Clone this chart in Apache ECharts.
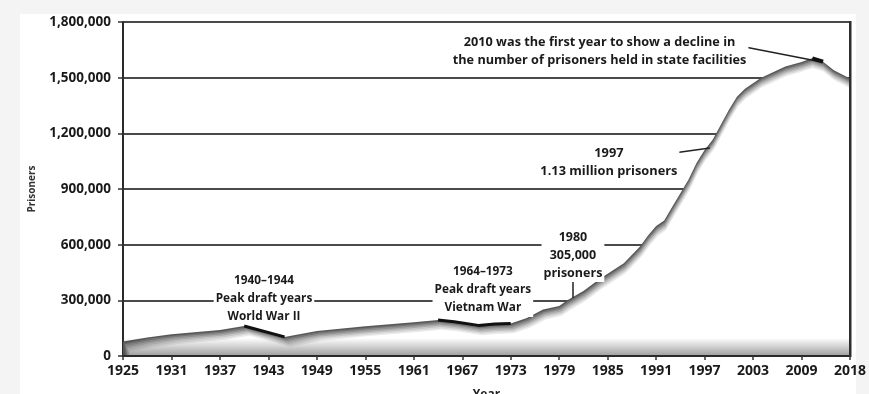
<!DOCTYPE html>
<html><head><meta charset="utf-8">
<script src="https://cdn.jsdelivr.net/npm/echarts@6/dist/echarts.min.js"></script>
<style>html,body{margin:0;padding:0;background:#f4f4f4;}#c{width:869px;height:394px;}</style>
</head><body><div id="c"></div>
<script>
// ---- data ----
const years = [1925,1928,1931,1937,1940,1945,1949,1955,1961,1964,1966,1969,1971,1973,1975,1977,1979,1980,1982,1984,1987,1989,1990,1991,1992,1993,1994,1995,1996,1997,1998,2000,2001,2002,2004,2007,2009,2010,2011,2013,2015,2018];
const prisoners = [78000,100000,117000,140000,162000,103000,135000,160000,182000,194000,185000,165000,172000,175000,205000,250000,270000,300000,350000,415000,500000,590000,650000,700000,730000,805000,877000,950000,1040000,1110000,1165000,1326000,1397000,1440000,1500000,1560000,1585000,1595000,1604000,1586000,1540000,1496000];
const xTickLabels = ['1925','1931','1937','1943','1949','1955','1961','1967','1973','1979','1985','1991','1997','2003','2009','2018'];
const yTickLabels = ['0','300,000','600,000','900,000','1,200,000','1,500,000','1,800,000'];
const wwiiYears = [1940,1945];
const vietnamYears = [1964,1973];
const declineYears = [2011,2013];
// annotations: [year, value, text]
const notes = [
  [1942.45, 307000, '1940\u20131944\nPeak draft years\nWorld War II'],
  [1969.55, 356000, '1964\u20131973\nPeak draft years\nVietnam War'],
  [1980.7, 544000, '1980\n305,000\nprisoners'],
  [1985.15, 1043000, '1997\n1.13 million prisoners'],
  [1984.0, 1643000, '2010 was the first year to show a decline in\nthe number of prisoners held in state facilities']
];
const pointers = [
  [[1980.7, 404000],[1980.7, 313000]],
  [[1992.3, 1089000],[1997.65, 1121000]],
  [[2002.0, 1665000],[2012.8, 1584000]]
];
// ---- axis scale: equally spaced ticks, last interval spans 2009-2018 ----
function pos(y){ return y <= 2009 ? (y-1925)/6 : 14 + (y-2009)/9; }
const series0 = years.map((y,i)=>[pos(y), prisoners[i]]);
function sub(r){ return years.map((y,i)=>[y,i]).filter(a=>a[0]>=r[0]&&a[0]<=r[1]).map(a=>[pos(a[0]), prisoners[a[1]]]); }

// ---- styling ----
const FONT = '"Open Sans", "Noto Sans", sans-serif';
const noteSize = [11.8, 11.8, 12.5, 12.8, 12.7];
const L=123, R=19, T=22, B=38;
// inner-shadow layers: [dx, dy, fill]
const shade = [[0,0,'#585858'],[1,1.4,'#747474'],[2,2.8,'#909090'],[3,4.2,'#aaaaaa'],[4,5.6,'#c3c3c3'],[5,7,'#d9d9d9'],[6,8.4,'#ececec'],[7,9.8,'#ffffff']];

const grids = [{left:L, right:R, top:T, bottom:B, show:false, outerBoundsMode:'none', containLabel:false}];
const xAxes = [{type:'value', gridIndex:0, min:0, max:15, interval:1, z:8,
    name:'Year', nameLocation:'middle', nameGap:33, nameTextStyle:{fontFamily:FONT, fontSize:12, fontWeight:'bold', color:'#222'},
    axisLine:{lineStyle:{color:'#2a2a2a', width:2}},
    axisTick:{show:true, length:4, lineStyle:{color:'#333', width:1.5}},
    axisLabel:{margin:8, fontFamily:FONT, fontSize:14, fontWeight:'bold', color:'#1a1a1a', formatter:v=>xTickLabels[Math.round(v)]},
    splitLine:{show:false}}];
const yAxes = [{type:'value', gridIndex:0, min:0, max:1800000, interval:300000, z:0,
    name:'Prisoners', nameLocation:'middle', nameGap:86, nameTextStyle:{fontFamily:FONT, fontSize:10, fontWeight:'bold', color:'#333'},
    axisLine:{show:true, lineStyle:{color:'#2a2a2a', width:2}},
    axisTick:{show:true, length:5, lineStyle:{color:'#333', width:1.5}},
    axisLabel:{margin:12, fontFamily:FONT, fontSize:13.5, fontWeight:'bold', color:'#1a1a1a', formatter:v=>yTickLabels[Math.round(v/300000)]},
    splitLine:{lineStyle:{color:'#4a4a4a', width:2}}}];
const series = [];
shade.forEach((s,i)=>{
  const gi = i+1;
  grids.push({left:L+s[0], right:R, top:T+s[1], bottom:B-s[1], show:false, outerBoundsMode:'none', containLabel:false});
  xAxes.push({type:'value', gridIndex:gi, min:0, max:15, show:false});
  yAxes.push({type:'value', gridIndex:gi, min:0, max:1800000, show:false});
  series.push({type:'line', xAxisIndex:gi, yAxisIndex:gi, data:series0, symbol:'none', z:1+i*0.1,
    lineStyle:{width:0, opacity:0}, areaStyle:{color:s[2], opacity:1}, silent:true});
});
series.push(
  {type:'line', data:sub(wwiiYears), symbol:'none', z:10, lineStyle:{color:'#111', width:3},
   markPoint:{silent:true, symbol:'circle', symbolSize:0,
     label:{show:true, position:'inside', align:'center', verticalAlign:'middle', fontFamily:FONT, fontWeight:'bold', color:'#1a1a1a', lineHeight:18, backgroundColor:'#ffffff', padding:[0,2]},
     data:notes.map((n,i)=>({coord:[pos(n[0]), n[1]], value:n[2], label:{formatter:n[2], fontSize:noteSize[i]}}))},
   markLine:{silent:true, symbol:'none', label:{show:false}, lineStyle:{color:'#222', width:1.5, type:'solid'},
     data:pointers.map(p=>[{coord:[pos(p[0][0]), p[0][1]]},{coord:[pos(p[1][0]), p[1][1]]}])}},
  {type:'line', data:sub(vietnamYears), symbol:'none', z:10, lineStyle:{color:'#111', width:3}},
  {type:'line', data:sub(declineYears), symbol:'none', z:10, lineStyle:{color:'#111', width:4}}
);

const chart = echarts.init(document.getElementById('c'), null, {renderer:'canvas'});
chart.setOption({
  animation:false,
  backgroundColor:'#f4f4f4',
  graphic:[
    {type:'rect', z:-10, shape:{x:20,y:14,width:836,height:380}, style:{fill:'#ffffff'}},
    {type:'rect', z:7, silent:true, shape:{x:L+1,y:338,width:869-L-R-2,height:18},
     style:{fill:new echarts.graphic.LinearGradient(0,0,0,1,[{offset:0,color:'rgba(0,0,0,0)'},{offset:1,color:'rgba(0,0,0,0.38)'}])}},
    {type:'rect', z:7, silent:true, shape:{x:L-2,y:357,width:869-L-R+6,height:12}, style:{fill:'#ffffff'}},
    {type:'rect', z:9, silent:true, shape:{x:869-R-1, y:T-1, width:2.5, height:394-B-T+2}, style:{fill:'#2e2e2e'}}
  ],
  grid:grids, xAxis:xAxes, yAxis:yAxes, series:series
});
</script></body></html>
